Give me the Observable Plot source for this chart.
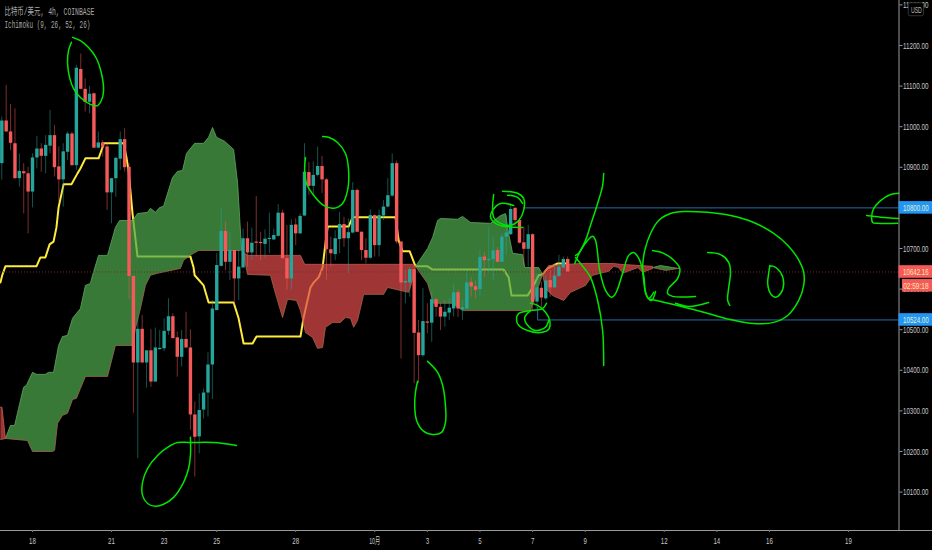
<!DOCTYPE html>
<html><head><meta charset="utf-8">
<style>html,body{margin:0;padding:0;background:#000;overflow:hidden}svg{display:block}</style>
<script src="https://cdn.jsdelivr.net/npm/d3@7"></script>
<script src="https://cdn.jsdelivr.net/npm/@observablehq/plot@0.6"></script>
</head><body><div id="c"></div>
<script>
const firstDay = 16 + 5/6;
const opens = [10909,11014,10987,10958,10872,10889,10884,10839,10923,10945,10927,10952,10978,10901,10869,10937,10982,10904,11141,11092,11060,11081,10947,10960,10950,10837,10872,10920,10968,10900,10631,10418,10501,10418,10448,10371,10451,10453,10496,10532,10480,10432,10476,10455,10290,10236,10302,10344,10413,10547,10656,10742,10666,10695,10625,10652,10724,10689,10716,10715,10710,10722,10721,10730,10787,10675,10625,10758,10736,10780,10887,10853,10880,10902,10869,10697,10685,10722,10759,10724,10738,10843,10740,10695,10676,10781,10707,10780,10802,10829,10909,10716,10615,10615,10648,10492,10436,10519,10516,10574,10555,10531,10541,10551,10591,10549,10551,10616,10606,10599,10679,10670,10673,10695,10666,10728,10734,10799,10769,10714,10698,10734,10568,10602,10576,10621,10603,10631,10652,10673];
const closes = [11014,10987,10959,10872,10890,10884,10839,10923,10945,10927,10954,10978,10899,10869,10938,10982,10904,11144,11092,11060,11080,10947,10960,10950,10837,10872,10922,10968,10899,10631,10418,10501,10418,10448,10371,10455,10454,10496,10532,10478,10432,10476,10455,10290,10235,10301,10344,10413,10551,10658,10742,10666,10695,10625,10654,10724,10689,10713,10713,10712,10723,10725,10732,10787,10675,10625,10757,10736,10779,10888,10853,10880,10902,10869,10697,10687,10724,10759,10724,10739,10843,10740,10695,10676,10781,10707,10781,10802,10830,10909,10716,10615,10619,10648,10491,10436,10520,10516,10574,10555,10531,10543,10553,10591,10551,10554,10615,10605,10597,10678,10670,10673,10694,10666,10728,10738,10796,10769,10713,10698,10734,10566,10603,10578,10620,10603,10632,10654,10673,10642.16];
const highs = [11024,11102,11055,11044,10933,10909,10900,10933,10976,10958,10978,11040,11003,10950,10958,10987,10986,11151,11179,11118,11099,11083,10987,10966,10958,10872,10925,10987,10995,10909,10633,10527,10535,10449,10500,10504,10498,10527,10576,10539,10494,10498,10543,10500,10322,10342,10354,10443,10572,10687,10798,10765,10740,10695,10695,10748,10765,10750,10828,10740,10746,10787,10748,10808,10794,10757,10771,10773,10785,10958,10912,10913,10950,10927,10872,10728,10744,10789,10777,10773,10862,10847,10741,10724,10795,10782,10795,10818,10872,10933,10915,10716,10646,10654,10648,10523,10601,10564,10592,10576,10564,10572,10576,10613,10597,10572,10646,10629,10621,10695,10691,10753,10728,10703,10736,10781,10810,10800,10773,10753,10757,10736,10638,10617,10633,10646,10662,10683,10679,10679];
const lows = [10868,10986,10941,10871,10851,10785,10736,10800,10896,10888,10884,10933,10876,10814,10802,10917,10903,10892,11091,11036,11032,10947,10946,10925,10794,10761,10826,10892,10888,10574,10294,10182,10417,10356,10358,10371,10449,10446,10486,10477,10383,10408,10454,10252,10137,10194,10280,10285,10328,10547,10655,10646,10621,10560,10572,10652,10654,10670,10679,10670,10675,10687,10720,10728,10674,10597,10597,10707,10735,10779,10831,10831,10876,10835,10621,10654,10670,10687,10703,10638,10736,10739,10670,10662,10674,10679,10679,10769,10800,10826,10711,10428,10564,10580,10367,10367,10432,10490,10469,10531,10498,10506,10523,10531,10530,10523,10550,10580,10576,10580,10629,10638,10621,10665,10665,10683,10732,10748,10711,10658,10654,10547,10551,10555,10572,10580,10601,10629,10650,10642];

const yellowLine = [[16.78,10616],[16.85,10634],[16.97,10656],[18.15,10656],[18.30,10678],[18.49,10678],[18.65,10710],[18.80,10717],[18.91,10752],[18.99,10801],[19.18,10858],[19.48,10858],[19.71,10885],[19.82,10897],[20.01,10922],[20.51,10922],[20.66,10949],[20.70,10959],[21.46,10959],[21.57,10924],[21.65,10892],[21.80,10786],[21.99,10680],[24.00,10680],[24.12,10653],[24.16,10634],[24.50,10609],[24.69,10567],[25.64,10567],[25.83,10528],[26.02,10466],[26.36,10466],[26.51,10483],[28.18,10483],[28.30,10530],[28.56,10604],[28.68,10616],[28.87,10629],[29.02,10653],[29.13,10712],[29.21,10752],[29.25,10754],[30.01,10754],[30.16,10777],[31.79,10777],[31.91,10720],[32.06,10693],[32.33,10693],[32.55,10656],[33.01,10656],[33.20,10648],[35.90,10648],[36.09,10629],[36.20,10584],[36.81,10584],[37.0,10604],[37.23,10634],[37.38,10636],[37.57,10651],[37.95,10663],[38.33,10663]];

const green1Top = [[16.97,10232],[17.16,10264],[17.32,10264],[17.47,10306],[17.66,10358],[17.77,10363],[18.0,10395],[18.15,10390],[18.49,10390],[18.61,10395],[18.80,10395],[18.99,10461],[19.14,10483],[19.33,10486],[19.52,10528],[19.82,10552],[20.01,10609],[20.20,10614],[20.28,10634],[20.51,10683],[20.85,10683],[21.15,10752],[21.31,10769],[21.80,10769],[21.99,10786],[22.37,10789],[22.48,10799],[22.67,10789],[22.83,10801],[22.98,10804],[23.32,10875],[23.51,10890],[23.70,10892],[23.85,10934],[24.16,10959],[24.50,10959],[24.69,10974],[24.84,10998],[24.99,10974],[25.30,10964],[25.64,10944],[25.79,10863],[25.94,10700]];
const green1Bottom = [[16.97,10232],[17.81,10227],[18.0,10200],[18.76,10200],[18.84,10203],[18.95,10269],[19.14,10289],[19.33,10294],[19.52,10328],[19.67,10331],[19.82,10355],[20.01,10385],[20.85,10385],[21.15,10461],[21.80,10461],[21.91,10503],[22.10,10552],[22.29,10609],[22.48,10634],[22.75,10639],[23.62,10651],[23.74,10671],[23.93,10680],[24.12,10688],[24.31,10695],[25.90,10695],[25.94,10700]];
const red0Top = [[16.78,10309],[16.84,10309],[16.97,10232]];
const red0Bottom = [[16.78,10230],[16.85,10230],[16.97,10232]];
const red1Top = [[25.94,10700],[26.02,10690],[26.17,10683],[28.18,10683],[28.34,10661],[32.44,10661],[32.55,10656]];
const red1Bottom = [[25.94,10700],[26.06,10671],[26.17,10636],[27.04,10634],[27.23,10589],[27.50,10530],[27.69,10575],[28.03,10572],[28.18,10547],[28.37,10493],[28.64,10481],[28.83,10454],[29.02,10456],[29.13,10506],[29.40,10518],[29.70,10518],[29.89,10530],[30.08,10528],[30.20,10506],[30.35,10523],[30.58,10587],[31.34,10587],[31.49,10604],[32.29,10592],[32.40,10614],[32.55,10656]];
const green2Top = [[32.55,10656],[33.01,10700],[33.20,10727],[33.39,10769],[33.50,10774],[34.15,10772],[34.34,10779],[34.64,10764],[35.40,10762],[35.78,10781],[35.97,10786],[36.09,10737],[36.24,10688],[36.62,10685],[36.70,10653],[37.23,10653],[37.38,10636]];
const green2Bottom = [[32.55,10656],[33.01,10614],[33.20,10572],[33.24,10565],[33.96,10565],[34.34,10547],[36.92,10547],[37.04,10572],[37.30,10621],[37.38,10636]];
const red2Top = [[37.38,10636],[37.61,10658],[38.82,10663],[40.08,10663],[40.34,10661],[41.56,10656]];
const red2Bottom = [[37.38,10636],[37.49,10602],[37.76,10584],[38.18,10572],[38.44,10592],[39.01,10609],[39.28,10634],[39.89,10644],[40.08,10656],[40.27,10653],[40.42,10639],[41.0,10653],[41.18,10641],[41.56,10651]];
const green3Top = [[41.56,10653],[41.86,10658],[42.32,10653],[42.55,10651]];
const green3Bottom = [[41.56,10653],[42.05,10646],[42.55,10651]];

const sketches = [
 [[19.48,11208],[19.37,11188],[19.33,11158],[19.41,11121],[19.56,11094],[19.82,11072],[20.20,11055],[20.47,11052],[20.62,11065],[20.70,11089],[20.62,11131],[20.43,11168],[20.13,11195],[19.82,11212],[19.52,11220]],
 [[24.0,10235],[24.0,10190],[23.93,10158],[23.74,10124],[23.36,10087],[22.98,10070],[22.67,10065],[22.37,10072],[22.18,10092],[22.18,10124],[22.37,10158],[22.75,10190],[23.13,10210],[23.51,10222],[24.0,10222],[24.88,10222],[25.75,10215]],
 [[28.37,10924],[28.34,10892],[28.41,10860],[28.68,10831],[29.06,10806],[29.44,10799],[29.78,10811],[29.97,10843],[30.01,10892],[29.89,10934],[29.59,10961],[29.25,10974],[29.02,10976]],
 [[33.01,10422],[33.39,10395],[33.58,10363],[33.69,10313],[33.69,10272],[33.54,10247],[33.20,10242],[32.82,10252],[32.59,10277],[32.52,10313],[32.55,10346],[32.63,10373]],
 [[35.52,10833],[35.52,10777],[35.78,10762],[36.16,10757],[36.47,10769],[36.66,10794],[36.66,10823],[36.43,10836],[35.86,10841]],
 [[36.28,10806],[35.78,10811],[35.48,10794],[35.40,10777],[35.59,10762],[35.97,10754],[36.62,10752]],
 [[36.05,10831],[36.43,10826],[36.62,10811]],
 [[37.53,10565],[37.38,10552],[36.92,10547],[36.47,10540],[36.39,10523],[36.47,10511],[36.81,10498],[37.30,10493],[37.61,10501],[37.65,10523],[37.49,10543],[37.19,10560],[36.92,10565]],
 [[36.92,10547],[36.70,10530],[36.81,10511],[37.11,10498],[37.49,10506],[37.61,10523]],
 [[39.70,10885],[39.66,10855],[39.47,10811],[39.20,10757],[39.01,10720],[38.75,10688],[38.63,10683]],
 [[38.60,10663],[38.82,10695],[39.09,10720],[39.28,10730],[39.39,10720],[39.55,10646],[39.77,10597],[40.0,10580],[40.15,10589],[40.42,10639],[40.65,10683],[40.84,10690],[41.03,10676],[41.22,10634],[41.29,10592],[41.41,10577],[41.60,10592]],
 [[38.63,10678],[38.82,10663],[39.20,10629],[39.47,10572],[39.66,10498],[39.70,10412]],
 [[41.67,10594],[41.52,10572],[41.33,10584],[41.22,10621],[41.18,10653],[41.26,10695],[41.48,10737],[41.79,10769],[42.24,10786],[42.74,10791],[43.65,10789],[44.52,10781],[45.40,10764],[46.16,10737],[46.69,10708],[47.07,10676],[47.30,10641],[47.30,10609],[47.11,10572],[46.69,10535],[46.16,10518],[45.40,10515],[44.52,10525],[43.50,10543],[42.36,10562],[41.48,10575]],
 [[42.43,10565],[42.93,10557],[43.69,10567]],
 [[41.56,10695],[41.98,10688],[42.36,10671],[42.59,10651],[42.51,10626],[42.17,10602],[42.13,10589],[42.32,10582],[43.19,10582]],
 [[43.65,10690],[44.14,10685],[44.45,10666],[44.52,10641],[44.45,10604],[44.41,10572],[44.49,10560]],
 [[46.01,10658],[45.97,10639],[45.93,10614],[46.04,10589],[46.23,10580],[46.42,10589],[46.54,10614],[46.42,10641],[46.16,10656],[46.01,10656]],
 [[50.91,10836],[50.60,10833],[50.22,10818],[49.96,10799],[49.88,10777],[49.92,10764],[50.11,10762],[50.87,10762]],
 [[49.69,10781],[50.22,10777],[50.91,10774]]
];

const priceTicks = [10100,10200,10300,10400,10500,10600,10700,10800,10900,11000,11100,11200,11300];
const dayTicks = [18,21,23,25,28,31,33,35,37,39,42,44,46,49];
const dayLabels = ["18","21","23","25","28","10月","3","5","7","9","12","14","16","19"];
const lastPrice = 10642.16, upperLevel = 10800, lowerLevel = 10524;
const titleLines = ["比特币/美元, 4h, COINBASE","Ichimoku (9, 26, 52, 26)"];

const xMax = 50.92, xLeft = 16.784;
const candles = opens.map((o,i)=>({day:firstDay+i/6,o,c:closes[i],h:highs[i],l:lows[i]}));
const up = candles.filter(d=>d.c>=d.o), down = candles.filter(d=>d.c<d.o);
const TEAL="#26a69a", RED="#f55a5a", GREENFILL="#4ea84e", REDFILL="#de4a4a";
const px=d=>d[0], py=d=>d[1];
const poly=(t,b)=>t.concat(b.slice().reverse());
const clouds=[[green1Top,green1Bottom,GREENFILL],[red0Top,red0Bottom,REDFILL],[red1Top,red1Bottom,REDFILL],[green2Top,green2Bottom,GREENFILL],[red2Top,red2Bottom,REDFILL],[green3Top,green3Bottom,GREENFILL]];

const badges=[
 {p:upperLevel,t:"10800.00",f:"#2196f3",c:"#e6eecf",x1:xMax},
 {p:lastPrice,t:"10642.16",f:RED,c:"#ffe8a8",x1:xMax},
 {p:10608,t:"02:59:18",f:RED,c:"#ffe8a8",x1:51.05},
 {p:lowerLevel,t:"10524.00",f:"#2196f3",c:"#e6eecf",x1:xMax}
];
const MONO="'Liberation Mono','Noto Sans CJK SC',monospace";

const chart = Plot.plot({
  width:932, height:550, marginLeft:0, marginRight:33.5, marginTop:0, marginBottom:20,
  style:{background:"#000",color:"#c4c4c4",fontFamily:"'Liberation Sans','Noto Sans CJK SC',sans-serif",fontSize:"10px"},
  x:{type:"linear",domain:[xLeft,xMax],axis:null},
  y:{type:"linear",domain:[10005.4,11310.8],axis:null},
  marks:[
    Plot.line(yellowLine,{x:px,y:py,stroke:"#ffeb3b",strokeWidth:2}),
    ...clouds.map(([t,b,f])=>Plot.line(poly(t,b),{x:px,y:py,fill:f,fillOpacity:.72,stroke:"none"})),
    ...clouds.map(([t,b,f])=>Plot.line(t,{x:px,y:py,stroke:f===GREENFILL?"#5fa85f":"#c05a50",strokeOpacity:.8,strokeWidth:1})),
    ...clouds.map(([t,b])=>Plot.line(b,{x:px,y:py,stroke:"#a0664a",strokeOpacity:.8,strokeWidth:1})),
    Plot.ruleY([lastPrice],{stroke:"#7a2626",strokeDasharray:"1,2",strokeWidth:1}),
    Plot.ruleX(up,{x:"day",y1:"l",y2:"h",stroke:TEAL,strokeOpacity:.5,strokeWidth:1}),
    Plot.ruleX(down,{x:"day",y1:"l",y2:"h",stroke:RED,strokeOpacity:.5,strokeWidth:1}),
    Plot.ruleX(up,{x:"day",y1:"o",y2:"c",stroke:TEAL,strokeWidth:3.4}),
    Plot.ruleX(down,{x:"day",y1:"o",y2:"c",stroke:RED,strokeWidth:3.4}),
    Plot.ruleY([upperLevel],{x1:36.66,x2:xMax,stroke:"#2a6ca5",strokeWidth:1}),
    Plot.ruleY([lowerLevel],{x1:37.19,x2:xMax,stroke:"#2a6ca5",strokeWidth:1}),
    Plot.ruleX([37.19],{y1:lowerLevel,y2:10555,stroke:"#2a6ca5",strokeWidth:1}),
    ...sketches.map(s=>Plot.line(s,{x:px,y:py,stroke:"#00e600",strokeWidth:1.5,curve:"catmull-rom"})),
    Plot.ruleX([xMax],{stroke:"#9a9a9a",strokeWidth:1}),
    Plot.ruleY([10005.4],{x1:xLeft,x2:52.2,stroke:"#9a9a9a",strokeWidth:1}),
    Plot.axisY({anchor:"right",ticks:priceTicks,tickFormat:d=>d.toFixed(2),tickSize:3,tickPadding:1,stroke:"#9a9a9a",fill:"#c8c8c8",fontSize:9.5}),
    Plot.axisX({anchor:"bottom",ticks:dayTicks,tickFormat:d=>dayLabels[dayTicks.indexOf(d)],tickSize:2,tickPadding:5,stroke:"#777",fill:"#c8c8c8",fontSize:9.5}),
    Plot.rect(badges,{x1:"x1",x2:52.2,y1:d=>d.p-15.5,y2:d=>d.p+15.5,fill:"f"}),
    Plot.text(badges,{x:51.56,y:"p",text:"t",fill:"c",fontSize:9.5,textAnchor:"middle",lineAnchor:"middle"}),
    Plot.rect([0],{x1:51.29,x2:51.87,y1:11272,y2:11304,fill:"#000",stroke:"#333",rx:2}),
    Plot.text(["USD"],{x:51.58,y:11288,fill:"#bbb",fontSize:9,textAnchor:"middle"}),
    Plot.text([titleLines[0]],{frameAnchor:"top-left",dx:4,dy:7,fill:"#a8a8a8",fontSize:10,fontFamily:MONO}),
    Plot.text([titleLines[1]],{frameAnchor:"top-left",dx:4,dy:20,fill:"#a8a8a8",fontSize:10,fontFamily:MONO})
  ]
});
document.getElementById("c").appendChild(chart);
chart.querySelectorAll("text").forEach(t=>{
  const s=t.textContent; let L;
  if(s===titleLines[0]) L=90;
  else if(s===titleLines[1]) L=86;
  else if(s==="10月") L=11;
  else if(s==="USD") L=11;
  else if(s.length>=8) L=25.5;
  else L=s.length*3.4;
  const natural=t.getComputedTextLength();
  const tr=t.getAttribute("transform");
  if(tr&&natural>0) t.setAttribute("transform",`${tr} scale(${(L/natural).toFixed(3)},1)`);
  else {t.setAttribute("textLength",L.toFixed(1));t.setAttribute("lengthAdjust","spacingAndGlyphs");}
});
</script></body></html>
